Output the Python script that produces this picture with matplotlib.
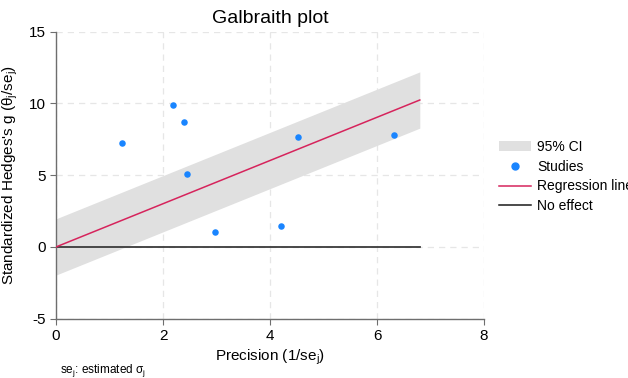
import matplotlib.pyplot as plt
import numpy as np
from matplotlib.patches import Patch
from matplotlib.lines import Line2D

plt.rcParams['font.family'] = ['Liberation Sans', 'DejaVu Sans']
plt.rcParams['axes.unicode_minus'] = False

# study data
precision = [1.23, 2.19, 2.39, 2.45, 2.97, 4.20, 4.52, 6.31]
std_g = [7.25, 9.92, 8.69, 5.11, 1.02, 1.49, 7.69, 7.78]

slope = 1.506
ci_half = 1.96
x_max = 6.80

fig = plt.figure(figsize=(6.28, 3.78), dpi=100)
ax = fig.add_axes([0.0892, 0.1569, 0.6815, 0.7592])

xs = np.array([0, x_max])
fit = slope * xs
ax.fill_between(xs, fit - ci_half, fit + ci_half, color='#e0e0e0', lw=0, zorder=1)
ax.plot(xs, fit, color='#d6245c', lw=1.1, zorder=3)
ax.plot(xs, [0, 0], color='#3a3a3a', lw=1.3, zorder=2)
ax.scatter(precision, std_g, s=22, color='#1a85ff', zorder=4, linewidths=0)

ax.set_xlim(0, 8)
ax.set_ylim(-5, 15)
ax.set_xticks([0, 2, 4, 6, 8])
ax.set_yticks([-5, 0, 5, 10, 15])
ax.grid(True, color='#e6e6e6', ls=(0, (5, 4)), lw=0.9, zorder=0)
ax.set_axisbelow(True)
for s in ['top', 'right']:
    ax.spines[s].set_visible(False)
for s in ['left', 'bottom']:
    ax.spines[s].set_color('#6e6e6e')
    ax.spines[s].set_linewidth(1.0)
ax.tick_params(colors='#6e6e6e', labelcolor='black', labelsize=11, length=4)

ax.set_title('Galbraith plot', fontsize=14, pad=6)
ax.set_xlabel('Precision (1/se$_\\mathregular{j}$)', fontsize=11, labelpad=3)
ax.set_ylabel('Standardized Hedges\'s g ($\\mathregular{\\theta_j}$/se$_\\mathregular{j}$)', fontsize=11, labelpad=6)
fig.text(0.095, 0.013, 'se$_\\mathregular{j}$: estimated $\\mathregular{\\sigma_j}$', fontsize=8.5)

handles = [Patch(facecolor='#e0e0e0', edgecolor='none'),
           Line2D([], [], marker='o', ls='none', color='#1a85ff', markersize=5),
           Line2D([], [], color='#d6245c', lw=1.1),
           Line2D([], [], color='#1a1a1a', lw=1.1)]
labels = ['95% CI', 'Studies', 'Regression line', 'No effect']
fig.legend(handles, labels, loc='upper left', bbox_to_anchor=(0.786, 0.645),
           frameon=False, fontsize=10, handlelength=2.3, handletextpad=0.45,
           labelspacing=0.42, borderaxespad=0)

fig.savefig('out.png', dpi=100)
